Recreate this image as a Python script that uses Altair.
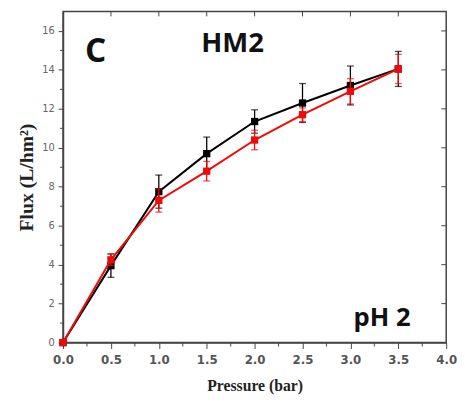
import altair as alt
import pandas as pd

pressure = [0.0, 0.5, 1.0, 1.5, 2.0, 2.5, 3.0, 3.5]
black_flux = [0.0, 3.95, 7.75, 9.7, 11.35, 12.3, 13.2, 14.05]
black_err = [0.0, 0.6, 0.85, 0.85, 0.6, 1.0, 1.0, 0.9]
red_flux = [0.0, 4.25, 7.3, 8.8, 10.4, 11.7, 12.9, 14.05]
red_err = [0.0, 0.3, 0.6, 0.5, 0.5, 0.35, 0.65, 0.75]

x_major = [0, 0.5, 1, 1.5, 2, 2.5, 3, 3.5, 4]
x_minor = [0.25, 0.75, 1.25, 1.75, 2.25, 2.75, 3.25, 3.75]
y_major = [0, 2, 4, 6, 8, 10, 12, 14, 16]
y_minor = [1, 3, 5, 7, 9, 11, 13, 15]

rows = []
for name, fl, er in [("black", black_flux, black_err), ("red", red_flux, red_err)]:
    for p, f, e in zip(pressure, fl, er):
        rows.append({"p": p, "flux": f, "lo": f - e, "hi": f + e, "s": name})
df = pd.DataFrame(rows)

labels = pd.DataFrame({
    "x": [0.34, 1.77, 3.33],
    "y": [14.9, 15.3, 1.25],
    "t": ["C", "HM2", "pH 2"],
    "size": [34, 28, 26],
})

xs = alt.Scale(domain=[0, 4], nice=False)
ys = alt.Scale(domain=[0, 17], nice=False)
col = alt.Color("s:N", scale=alt.Scale(domain=["black", "red"], range=["#000000", "#ee0a0a"]), legend=None)

xaxis = alt.Axis(values=x_major, format=".1f", title="Pressure (bar)",
                 titleFont="Liberation Serif", titleFontSize=16, titleFontWeight="bold", titleColor="#222",
                 titlePadding=13, labelFont="DejaVu Sans", labelFontSize=12, labelFontWeight="bold",
                 labelColor="#555", labelPadding=6, tickSize=6, tickColor="#444", domainColor="#444",
                 domainWidth=1.5, grid=False, labelFlush=False)
yaxis = alt.Axis(values=y_major, title="Flux (L/hm²)",
                 titleFont="Liberation Serif", titleFontSize=20, titleFontWeight="bold", titleColor="#222",
                 titlePadding=5, labelFont="DejaVu Sans", labelFontSize=10, labelColor="#666",
                 labelPadding=4, tickSize=5, tickColor="#444", domainColor="#444", domainWidth=1.5,
                 grid=False)

base = alt.Chart(df)

minor_x = alt.Chart(pd.DataFrame({"p": x_minor})).mark_rule(color="#444", strokeWidth=1).encode(
    x=alt.X("p:Q", scale=xs), y=alt.value(337), y2=alt.value(341))
minor_y = alt.Chart(pd.DataFrame({"v": y_minor})).mark_rule(color="#444", strokeWidth=1).encode(
    y=alt.Y("v:Q", scale=ys), x=alt.value(-3), x2=alt.value(0))
top_ticks = alt.Chart(pd.DataFrame({"p": x_major[1:-1]})).mark_rule(color="#444", strokeWidth=1).encode(
    x=alt.X("p:Q", scale=xs), y=alt.value(0), y2=alt.value(5))
right_ticks = alt.Chart(pd.DataFrame({"v": y_major[1:]})).mark_rule(color="#444", strokeWidth=1).encode(
    y=alt.Y("v:Q", scale=ys), x=alt.value(385), x2=alt.value(390))

lines = base.mark_line(strokeWidth=2).encode(
    x=alt.X("p:Q", scale=xs, axis=xaxis),
    y=alt.Y("flux:Q", scale=ys, axis=yaxis),
    color=col, detail="s:N",
)
err = base.mark_rule(strokeWidth=1.3).encode(x="p:Q", y="lo:Q", y2="hi:Q", color=col)
caps_hi = base.mark_tick(orient="horizontal", size=7, thickness=1.3).encode(x="p:Q", y="hi:Q", color=col)
caps_lo = base.mark_tick(orient="horizontal", size=7, thickness=1.3).encode(x="p:Q", y="lo:Q", color=col)
pts = base.mark_square(size=55, opacity=1).encode(x="p:Q", y="flux:Q", color=col)

txt = alt.Chart(labels).mark_text(font="Open Sans", fontWeight="bold", color="#111", align="center",
                                  baseline="middle").encode(
    x=alt.X("x:Q", scale=xs), y=alt.Y("y:Q", scale=ys), text="t:N",
    size=alt.Size("size:Q", scale=None, legend=None),
)

layers = []
for s in ["black", "red"]:
    f = f"datum.s == '{s}'"
    layers += [lines.transform_filter(f), err.transform_filter(f), caps_hi.transform_filter(f),
               caps_lo.transform_filter(f), pts.transform_filter(f)]

chart = alt.layer(
    *layers, minor_x, minor_y, top_ticks, right_ticks, txt,
).properties(
    width=390, height=337,
    autosize=alt.AutoSizeParams(type="none"),
    padding={"left": 56, "top": 0, "right": 11, "bottom": 60},
    background="white",
).configure_view(stroke="#444", strokeWidth=1.5)

chart.save("out.html", embed_options={"renderer": "svg", "actions": False})
